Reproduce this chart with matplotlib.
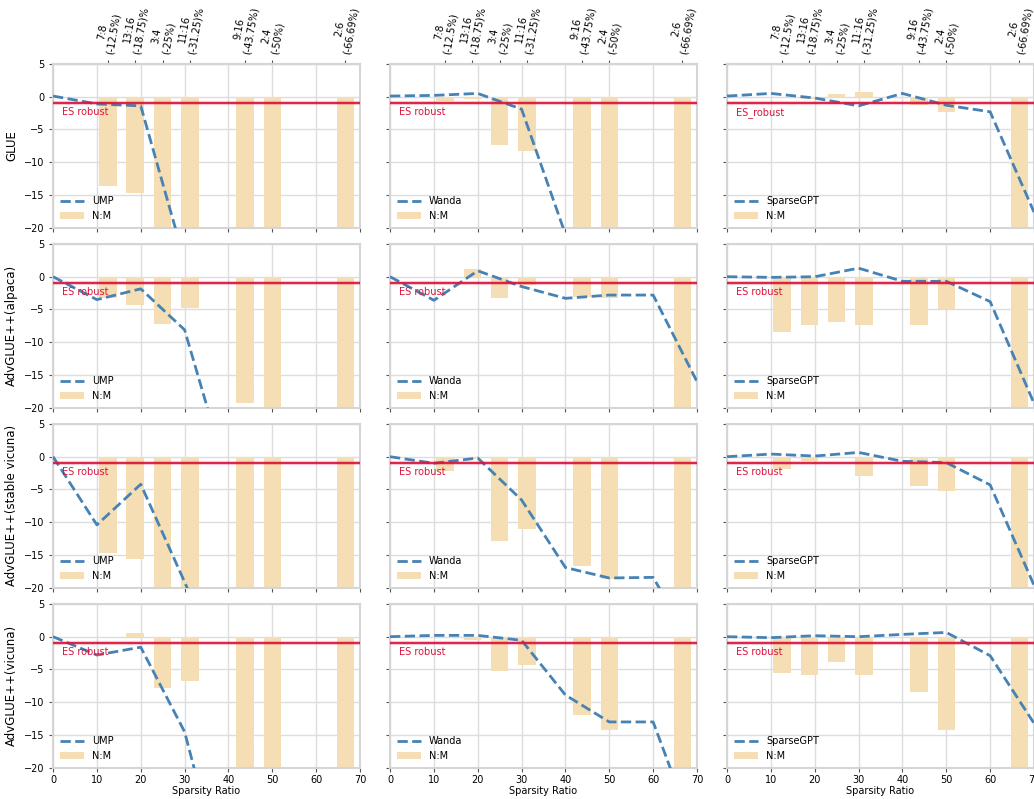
import matplotlib
matplotlib.use("Agg")
import matplotlib.pyplot as plt

# 稀疏率 (x 轴)
sparsity = [0, 10, 20, 30, 40, 50, 60, 70]

# N:M 结构化稀疏的位置和标签
nm_pos = [12.5, 18.75, 25, 31.25, 43.75, 50, 66.69]
nm_labels = ["7:8\n(-12.5%)", "13:16\n(-18.75)%", "3:4\n(-25%)", "11:16\n(-31.25)%",
             "9:16\n(-43.75%)", "2:4\n(-50%)", "2:6\n(-66.69%)"]

datasets = ["GLUE", "AdvGLUE++(alpaca)", "AdvGLUE++(stable vicuna)", "AdvGLUE++(vicuna)"]
methods = ["UMP", "Wanda", "SparseGPT"]

# GLUE
glue_ump = [0.1, -1.1, -1.4, -25, -40, -50, -60, -65]
glue_ump_nm = [-13.6, -14.7, -25, -30, -40, -45, -60]
glue_wanda = [0.1, 0.2, 0.5, -1.9, -21, -35, -45, -55]
glue_wanda_nm = [-0.6, -0.4, -7.3, -8.3, -30, -35, -50]
glue_sgpt = [0.1, 0.5, -0.2, -1.4, 0.5, -1.3, -2.3, -17.6]
glue_sgpt_nm = [-0.1, -0.35, 0.35, 0.7, -1.2, -2.4, -35]

# AdvGLUE++(alpaca)
alpaca_ump = [0, -3.5, -1.85, -8.1, -31, -45, -55, -60]
alpaca_ump_nm = [-3.3, -4.3, -7.2, -4.7, -19.2, -22, -30]
alpaca_wanda = [0, -3.6, 0.9, -1.5, -3.3, -2.8, -2.8, -16]
alpaca_wanda_nm = [-0.2, 1.1, -3.3, -1.3, -3.1, -3.3, -30]
alpaca_sgpt = [0, -0.1, 0, 1.3, -0.7, -0.7, -3.8, -19.3]
alpaca_sgpt_nm = [-8.4, -7.3, -6.9, -7.3, -7.3, -4.9, -30]

# AdvGLUE++(stable vicuna)
svicuna_ump = [0, -10.4, -4.2, -19.1, -35, -45, -55, -60]
svicuna_ump_nm = [-14.7, -15.6, -25, -28, -30, -30, -40]
svicuna_wanda = [0, -1.0, -0.2, -6.6, -16.9, -18.5, -18.4, -30]
svicuna_wanda_nm = [-2.2, -0.3, -12.8, -11.1, -16.6, -18.6, -30]
svicuna_sgpt = [0, 0.4, 0.1, 0.65, -0.7, -0.9, -4.3, -19.6]
svicuna_sgpt_nm = [-1.9, -0.7, -0.1, -3.0, -4.4, -5.2, -30]

# AdvGLUE++(vicuna)
vicuna_ump = [0, -2.8, -1.6, -14.5, -40, -50, -60, -65]
vicuna_ump_nm = [-0.1, 0.5, -7.8, -6.7, -25, -30, -40]
vicuna_wanda = [0, 0.2, 0.2, -0.55, -8.9, -13.0, -13.0, -31]
vicuna_wanda_nm = [0, -0.5, -5.3, -4.3, -12.0, -14.2, -30]
vicuna_sgpt = [0, -0.15, 0.15, 0, 0.35, 0.65, -2.9, -13.2]
vicuna_sgpt_nm = [-5.5, -5.9, -3.9, -5.9, -8.4, -14.2, -30]

lines = [
    [glue_ump, glue_wanda, glue_sgpt],
    [alpaca_ump, alpaca_wanda, alpaca_sgpt],
    [svicuna_ump, svicuna_wanda, svicuna_sgpt],
    [vicuna_ump, vicuna_wanda, vicuna_sgpt],
]
bars = [
    [glue_ump_nm, glue_wanda_nm, glue_sgpt_nm],
    [alpaca_ump_nm, alpaca_wanda_nm, alpaca_sgpt_nm],
    [svicuna_ump_nm, svicuna_wanda_nm, svicuna_sgpt_nm],
    [vicuna_ump_nm, vicuna_wanda_nm, vicuna_sgpt_nm],
]

es_robust = -1

fig = plt.figure(figsize=(10.34, 7.99), dpi=100)
axes = fig.subplots(4, 3, sharex=True, sharey=True)
fig.subplots_adjust(left=0.0513, right=1.0, top=0.92, bottom=0.039,
                    wspace=0.098, hspace=0.098)

for i in range(4):
    for j in range(3):
        ax = axes[i, j]
        ax.set_axisbelow(True)
        ax.grid(True, color="#dddddd", linewidth=1)
        for s in ax.spines.values():
            s.set_color("#d5d5d5")
            s.set_linewidth(1.5)
        ax.tick_params(labelsize=7, length=3, color="#555555", width=0.8)
        ax.tick_params(axis="x", pad=2)

        ax.bar(nm_pos, bars[i][j], width=4, color="wheat", label="N:M", zorder=2)
        ax.plot(sparsity, lines[i][j], "--", color="steelblue", lw=2,
                label=methods[j], zorder=3)
        ax.axhline(es_robust, color="crimson", lw=3, alpha=0.25, zorder=4)
        ax.axhline(es_robust, color="crimson", lw=1.3, zorder=4)
        txt = "ES_robust" if (i == 0 and j == 2) else "ES robust"
        ax.text(2, -2.4, txt, color="crimson", fontsize=7, va="center", zorder=5)

        ax.legend(loc="lower left", frameon=False, fontsize=7,
                  handlelength=2.5, borderaxespad=0.3)
        ax.set_xlim(0, 70)
        ax.set_ylim(-20, 5)
        ax.set_xticks(range(0, 71, 10))
        ax.set_yticks(range(-20, 6, 5))

        if j == 0:
            ax.set_ylabel(datasets[i], fontsize=8.5)
        if i == 3:
            ax.set_xlabel("Sparsity Ratio", fontsize=7, labelpad=1)

        if i == 0:
            sec = ax.secondary_xaxis("top")
            sec.set_xticks(nm_pos, labels=nm_labels)
            sec.tick_params(axis="x", labelrotation=80, labelsize=7, length=3,
                            color="#555555", width=0.8)
            sec.spines["top"].set_color("#d5d5d5")
            sec.spines["top"].set_linewidth(1.5)

fig.savefig("out.png", dpi=100)
